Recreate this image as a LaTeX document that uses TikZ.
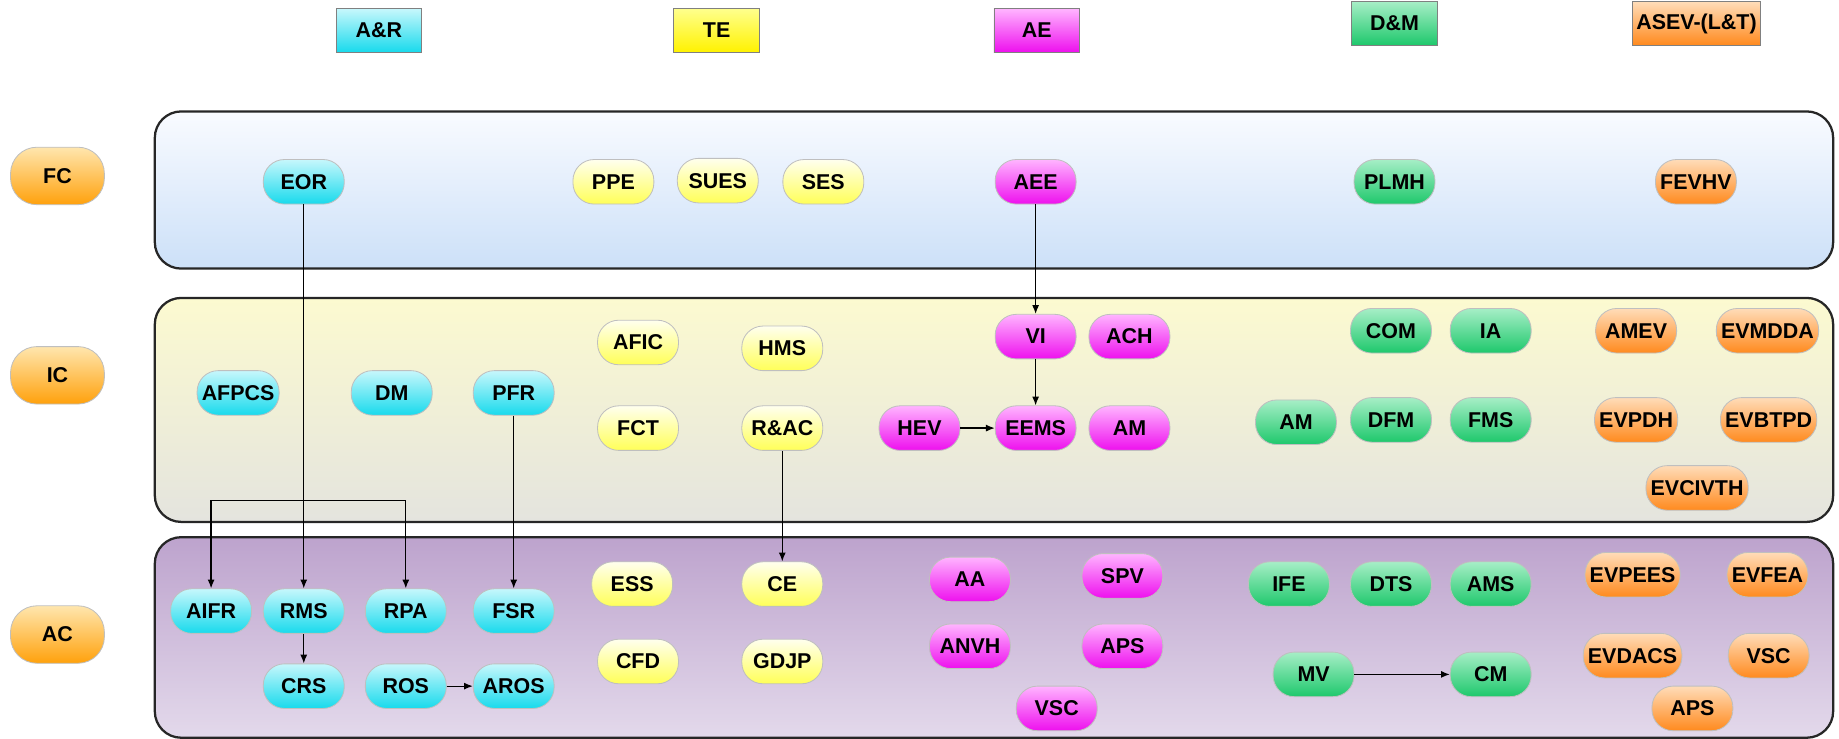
\documentclass[tikz,border=0pt]{standalone}
\usepackage{fontspec}
\setmainfont{Liberation Sans}
\usetikzlibrary{arrows.meta}

\definecolor{arTop}{HTML}{C6F7FC}
\definecolor{arBot}{HTML}{18DAEC}
\definecolor{teTop}{HTML}{FFFFEE}
\definecolor{teBot}{HTML}{FFFF58}
\definecolor{aeTop}{HTML}{FFB4FF}
\definecolor{aeBot}{HTML}{EE10EE}
\definecolor{dmTop}{HTML}{A6EEC6}
\definecolor{dmBot}{HTML}{1EC86C}
\definecolor{asTop}{HTML}{FFDCB8}
\definecolor{asBot}{HTML}{FF8A1E}
\definecolor{lvTop}{HTML}{FFE6AE}
\definecolor{lvBot}{HTML}{FFA10C}
\definecolor{fcTop}{HTML}{F9FBFF}
\definecolor{fcBot}{HTML}{CCE0F8}
\definecolor{icTop}{HTML}{FCFAD0}
\definecolor{icBot}{HTML}{E4E4DE}
\definecolor{acTop}{HTML}{BDA3CD}
\definecolor{acBot}{HTML}{E3D9EB}

\begin{document}
\begin{tikzpicture}[every node/.style={font=\fontsize{10.4}{12}\selectfont\bfseries}, >={Latex[length=1.5mm,width=1.2mm]},
	pill/.style={rectangle, rounded corners=0.36cm, minimum width=1.38cm, minimum height=0.76cm, inner xsep=0.08cm, draw=black!25},
	arpill/.style={pill, top color=arTop, bottom color=arBot},
	tepill/.style={pill, top color=teTop, bottom color=teBot},
	aepill/.style={pill, top color=aeTop, bottom color=aeBot},
	dmpill/.style={pill, top color=dmTop, bottom color=dmBot},
	aspill/.style={pill, top color=asTop, bottom color=asBot},
	levelpill/.style={pill, rounded corners=0.45cm, minimum width=1.6cm, minimum height=0.98cm, top color=lvTop, bottom color=lvBot},
	head/.style={rectangle, minimum width=1.46cm, minimum height=0.74cm, inner xsep=0.07cm, draw=black!50},
	zone/.style={draw=black!85, line width=1.1pt, rounded corners=0.45cm},
	link/.style={->, line width=0.6pt}]
	\useasboundingbox (0,0) rectangle (31.36,-12.6);
	% category headers
	\node[head, top color=arTop, bottom color=arBot] (hAR) at (6.46,-0.52) {A\&R};
	\node[head, top color=yellow!45, bottom color=yellow!90!orange] (hTE) at (12.22,-0.52) {TE};
	\node[head, top color=aeTop, bottom color=aeBot] (hAE) at (17.68,-0.52) {AE};
	\node[head, top color=dmTop, bottom color=dmBot] (hDM) at (23.78,-0.40) {D\&M};
	\node[head, top color=asTop, bottom color=asBot] (hAS) at (28.93,-0.40) {ASEV-(L\&T)};
	% level bands
	\path[zone, top color=fcTop, bottom color=fcBot] (2.64,-1.90) rectangle (31.26,-4.58);
	\path[zone, top color=icTop, bottom color=icBot] (2.64,-5.08) rectangle (31.26,-8.90);
	\path[zone, top color=acTop, bottom color=acBot] (2.64,-9.16) rectangle (31.26,-12.58);
	\node[levelpill] (FC) at (0.98,-3.00) {FC};
	\node[levelpill] (IC) at (0.98,-6.40) {IC};
	\node[levelpill] (AC) at (0.98,-10.82) {AC};
	% FC
	\node[arpill] (EOR) at (5.18,-3.10) {EOR};
	\node[tepill] (PPE) at (10.46,-3.10) {PPE};
	\node[tepill] (SUES) at (12.24,-3.08) {SUES};
	\node[tepill] (SES) at (14.04,-3.10) {SES};
	\node[aepill] (AEE) at (17.66,-3.10) {AEE};
	\node[dmpill] (PLMH) at (23.78,-3.10) {PLMH};
	\node[aspill] (FEVHV) at (28.92,-3.10) {FEVHV};
	% IC
	\node[arpill] (AFPCS) at (4.06,-6.70) {AFPCS};
	\node[arpill] (DM) at (6.68,-6.70) {DM};
	\node[arpill] (PFR) at (8.76,-6.70) {PFR};
	\node[tepill] (AFIC) at (10.88,-5.84) {AFIC};
	\node[tepill] (HMS) at (13.34,-5.94) {HMS};
	\node[tepill] (FCT) at (10.88,-7.30) {FCT};
	\node[tepill] (RAC) at (13.34,-7.30) {R\&AC};
	\node[aepill] (VI) at (17.66,-5.74) {VI};
	\node[aepill] (ACH) at (19.26,-5.74) {ACH};
	\node[aepill] (HEV) at (15.68,-7.30) {HEV};
	\node[aepill] (EEMS) at (17.66,-7.30) {EEMS};
	\node[aepill] (AMae) at (19.26,-7.30) {AM};
	\node[dmpill] (COM) at (23.72,-5.64) {COM};
	\node[dmpill] (IA) at (25.42,-5.64) {IA};
	\node[dmpill] (AMdm) at (22.10,-7.20) {AM};
	\node[dmpill] (DFM) at (23.72,-7.16) {DFM};
	\node[dmpill] (FMS) at (25.42,-7.16) {FMS};
	\node[aspill] (AMEV) at (27.90,-5.64) {AMEV};
	\node[aspill] (EVMDDA) at (30.14,-5.64) {EVMDDA};
	\node[aspill] (EVPDH) at (27.90,-7.16) {EVPDH};
	\node[aspill] (EVBTPD) at (30.16,-7.16) {EVBTPD};
	\node[aspill] (EVCIVTH) at (28.94,-8.32) {EVCIVTH};
	% AC
	\node[arpill] (AIFR) at (3.60,-10.42) {AIFR};
	\node[arpill] (RMS) at (5.18,-10.42) {RMS};
	\node[arpill] (RPA) at (6.92,-10.42) {RPA};
	\node[arpill] (FSR) at (8.76,-10.42) {FSR};
	\node[arpill] (CRS) at (5.18,-11.70) {CRS};
	\node[arpill] (ROS) at (6.92,-11.70) {ROS};
	\node[arpill] (AROS) at (8.76,-11.70) {AROS};
	\node[tepill] (ESS) at (10.78,-9.96) {ESS};
	\node[tepill] (CE) at (13.34,-9.96) {CE};
	\node[tepill] (CFD) at (10.88,-11.28) {CFD};
	\node[tepill] (GDJP) at (13.34,-11.28) {GDJP};
	\node[aepill] (AA) at (16.54,-9.88) {AA};
	\node[aepill] (SPV) at (19.14,-9.82) {SPV};
	\node[aepill] (ANVH) at (16.54,-11.02) {ANVH};
	\node[aepill] (APSae) at (19.14,-11.02) {APS};
	\node[aepill] (VSCae) at (18.02,-12.08) {VSC};
	\node[dmpill] (IFE) at (21.98,-9.96) {IFE};
	\node[dmpill] (DTS) at (23.72,-9.96) {DTS};
	\node[dmpill] (AMS) at (25.42,-9.96) {AMS};
	\node[dmpill] (MV) at (22.40,-11.50) {MV};
	\node[dmpill] (CM) at (25.42,-11.50) {CM};
	\node[aspill] (EVPEES) at (27.84,-9.80) {EVPEES};
	\node[aspill] (EVFEA) at (30.14,-9.80) {EVFEA};
	\node[aspill] (EVDACS) at (27.84,-11.18) {EVDACS};
	\node[aspill] (VSCas) at (30.16,-11.18) {VSC};
	\node[aspill] (APSas) at (28.86,-12.08) {APS};
	% links
	\coordinate (bridge) at (5.0,-8.54);
	\draw[link] (EOR) -- (RMS);
	\draw[link] (AEE) -- (VI);
	\draw[link] (VI) -- (EEMS);
	\draw[link] (HEV) -- (EEMS);
	\draw[link] (PFR) -- (FSR);
	\draw[link] (RAC) -- (CE);
	\draw[link, <->] (AIFR.north) |- (bridge -| RPA.north) -- (RPA.north);
	\draw[link] (RMS) -- (CRS);
	\draw[link] (ROS) -- (AROS);
	\draw[link] (MV) -- (CM);
\end{tikzpicture}
\end{document}
